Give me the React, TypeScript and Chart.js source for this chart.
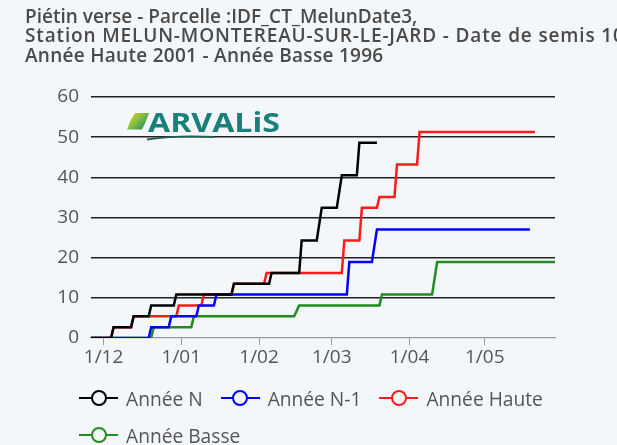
import React, { useEffect, useRef } from 'react';
import { Chart, registerables } from 'chart.js';

Chart.register(...registerables);

const BG = '#f4f7fa';
const FONT = '"Open Sans", sans-serif';

const titleLines = [
  'Piétin verse - Parcelle :IDF_CT_MelunDate3,',
  'Station MELUN-MONTEREAU-SUR-LE-JARD - Date de semis 10/10/2023',
  'Année Haute 2001 - Année Basse 1996',
];
const titleLetterSpacing = [0, 0.85, 0.28];

// x = days counted from 1 December
const tickDays = [0, 31, 62, 91, 122, 152];
const tickLabels = ['1/12', '1/01', '1/02', '1/03', '1/04', '1/05'];
const xMin = -5;
const xMax = 180;
const yTicks = [0, 10, 20, 30, 40, 50, 60];

const seriesNames = ['Année N', 'Année N-1', 'Année Haute', 'Année Basse'];
const seriesColors = ['#000000', '#0000ff', '#ff1a1a', '#228b22'];

const anneeNDays = [-5, 3, 4, 11, 12, 18, 19, 28, 29, 51, 52, 66, 67, 78, 79, 85, 87, 93, 95, 101, 102, 109];
const anneeNValues = [0, 0, 2.7, 2.7, 5.4, 5.4, 8.1, 8.1, 10.8, 10.8, 13.5, 13.5, 16.2, 16.2, 24.3, 24.3, 32.4, 32.4, 40.5, 40.5, 48.6, 48.6];

const anneeN1Days = [-5, 18, 19, 26, 27, 37, 38, 44, 45, 97, 98, 107, 109, 170];
const anneeN1Values = [0, 0, 2.7, 2.7, 5.4, 5.4, 8.1, 8.1, 10.8, 10.8, 18.9, 18.9, 27, 27];

const anneeHauteDays = [-5, 3, 4, 11, 12, 29, 30, 39, 40, 51, 52, 64, 65, 95, 96, 102, 103, 109, 110, 116, 117, 125, 126, 172];
const anneeHauteValues = [0, 0, 2.7, 2.7, 5.4, 5.4, 8.1, 8.1, 10.8, 10.8, 13.5, 13.5, 16.2, 16.2, 24.3, 24.3, 32.4, 32.4, 35.1, 35.1, 43.2, 43.2, 51.3, 51.3];

const anneeBasseDays = [-5, 19, 20, 35, 36, 76, 78, 110, 111, 131, 133, 180];
const anneeBasseValues = [0, 0, 2.7, 2.7, 5.4, 5.4, 8.1, 8.1, 10.8, 10.8, 18.9, 18.9];

const seriesDays = [anneeNDays, anneeN1Days, anneeHauteDays, anneeBasseDays];
const seriesValues = [anneeNValues, anneeN1Values, anneeHauteValues, anneeBasseValues];

const logoPlugin = {
  id: 'arvalisLogo',
  beforeDatasetsDraw(chart: any) {
    const ctx = chart.ctx as CanvasRenderingContext2D;
    ctx.save();
    // leaf mark
    const grad = ctx.createLinearGradient(128, 112, 146, 130);
    grad.addColorStop(0, '#f4c81c');
    grad.addColorStop(0.45, '#8fc23e');
    grad.addColorStop(1, '#1b8a6c');
    ctx.fillStyle = grad;
    ctx.beginPath();
    ctx.moveTo(135, 113);
    ctx.lineTo(149, 113);
    ctx.quadraticCurveTo(146, 122, 142, 129.5);
    ctx.lineTo(127, 129.5);
    ctx.quadraticCurveTo(130, 120, 135, 113);
    ctx.closePath();
    ctx.fill();
    // swoosh
    ctx.strokeStyle = '#1f5f5a';
    ctx.lineWidth = 1.8;
    ctx.beginPath();
    ctx.moveTo(147, 139.5);
    ctx.quadraticCurveTo(178, 135, 214, 137);
    ctx.stroke();
    // word
    ctx.font = '700 26px "Open Sans"';
    ctx.fillStyle = '#1a807c';
    ctx.textBaseline = 'alphabetic';
    const w = ctx.measureText('ARVALiS').width;
    ctx.translate(148, 131.5);
    ctx.scale(132 / w, 1);
    ctx.fillText('ARVALiS', 0, 0);
    ctx.restore();
  },
};

export default function App() {
  const ref = useRef<HTMLCanvasElement>(null);

  useEffect(() => {
    const datasets = seriesNames.map((name, i) => ({
      label: name,
      data: seriesDays[i].map((d, j) => ({ x: d, y: seriesValues[i][j] })),
      borderColor: seriesColors[i],
      backgroundColor: seriesColors[i],
      borderWidth: 2.5,
      pointRadius: 0,
      tension: 0,
      fill: false,
    }));

    const chart = new Chart(ref.current as HTMLCanvasElement, {
      type: 'line',
      data: { datasets },
      plugins: [logoPlugin],
      options: {
        animation: false,
        responsive: false,
        events: [],
        layout: { padding: { top: 97, left: 51, right: 62, bottom: 77 } },
        plugins: {
          legend: { display: false },
          title: { display: false },
          tooltip: { enabled: false },
        },
        scales: {
          x: {
            type: 'linear',
            min: xMin,
            max: xMax,
            afterBuildTicks: (scale: any) => {
              scale.ticks = tickDays.map((v) => ({ value: v }));
            },
            afterFit: (scale: any) => {
              scale.height = 30;
            },
            ticks: {
              autoSkip: false,
              maxRotation: 0,
              padding: 1,
              color: '#555',
              font: { family: FONT, size: 19 },
              callback: (v: any) => {
                const k = tickDays.indexOf(Number(v));
                return k >= 0 ? tickLabels[k] : '';
              },
            },
            grid: {
              drawOnChartArea: false,
              drawTicks: true,
              tickLength: 7,
              tickColor: '#999',
              lineWidth: 1,
            },
            border: { display: true, color: '#999', width: 1.2 },
          },
          y: {
            min: 0,
            max: 60,
            afterBuildTicks: (scale: any) => {
              scale.ticks = yTicks.map((v) => ({ value: v }));
            },
            afterFit: (scale: any) => {
              scale.width = 40;
            },
            ticks: {
              padding: 12,
              color: '#555',
              font: { family: FONT, size: 19 },
            },
            grid: {
              drawTicks: false,
              color: (c: any) => (c.tick && c.tick.value === 0 ? 'rgba(0,0,0,0)' : '#222'),
              lineWidth: 1.5,
            },
            border: { display: false },
          },
        },
      },
    } as any);
    return () => chart.destroy();
  }, []);

  return (
    <div
      style={{
        position: 'fixed',
        left: 0,
        top: 0,
        width: 617,
        height: 445,
        background: BG,
        overflow: 'hidden',
        fontFamily: FONT,
      }}
    >
      <canvas
        ref={ref}
        width={617}
        height={445}
        style={{ position: 'absolute', left: 0, top: 0, width: 617, height: 445 }}
      />
      <div
        style={{
          position: 'absolute',
          left: 25,
          top: 7,
          fontWeight: 600,
          fontSize: 19,
          lineHeight: '19.3px',
          color: '#4a4a4a',
          whiteSpace: 'nowrap',
        }}
      >
        {titleLines.map((l, i) => (
          <div key={l} style={{ letterSpacing: titleLetterSpacing[i] }}>
            {l}
          </div>
        ))}
      </div>
      <div
        style={{
          position: 'absolute',
          left: 79,
          top: 379.5,
          width: 538,
          display: 'flex',
          flexWrap: 'wrap',
        }}
      >
        {seriesNames.map((name, i) => (
          <div
            key={name}
            style={{ display: 'flex', alignItems: 'center', height: 37, marginRight: 18 }}
          >
            <span style={{ position: 'relative', display: 'inline-block', width: 39, height: 18 }}>
              <span
                style={{
                  position: 'absolute',
                  left: 0,
                  right: 0,
                  top: 7.75,
                  height: 2.5,
                  background: seriesColors[i],
                }}
              />
              <span
                style={{
                  position: 'absolute',
                  left: 11.5,
                  top: 1,
                  width: 16,
                  height: 16,
                  boxSizing: 'border-box',
                  border: `2.5px solid ${seriesColors[i]}`,
                  borderRadius: '50%',
                  background: BG,
                }}
              />
            </span>
            <span style={{ marginLeft: 8, fontSize: 19.2, color: '#555', whiteSpace: 'nowrap' }}>{name}</span>
          </div>
        ))}
      </div>
    </div>
  );
}
